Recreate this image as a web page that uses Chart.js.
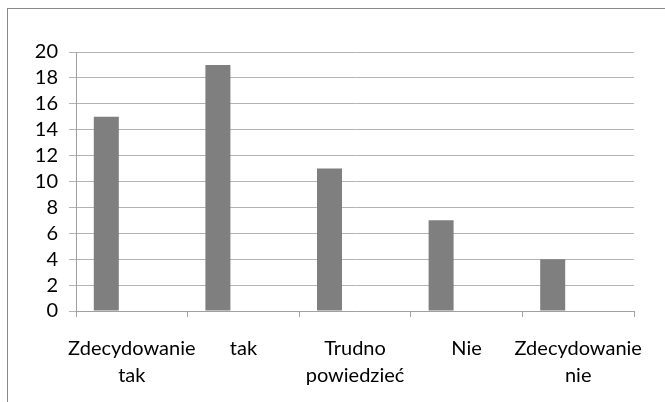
<!DOCTYPE html>
<html>
<head>
<meta charset="utf-8">
<script src="https://cdn.jsdelivr.net/npm/chart.js@4"></script>
<style>
  html, body { margin: 0; padding: 0; background: #fff; }
  #wrap { position: relative; width: 665px; height: 402px; }
  #frame {
    position: absolute; left: 7px; top: 8px; right: 0; bottom: 0;
    border-left: 1px solid #8a8a8a; border-top: 1px solid #8a8a8a;
    pointer-events: none;
  }
</style>
</head>
<body>
<div id="wrap">
  <canvas id="chart" width="665" height="402"></canvas>
  <div id="frame"></div>
</div>
<script>
/* Survey answers — single grey bar series */

const categories = [
    ['Zdecydowanie', 'tak'],
    'tak',
    ['Trudno', 'powiedzieć'],
    'Nie',
    ['Zdecydowanie', 'nie'],
];
const answers = [15, 19, 11, 7, 4];
const emptySeries = [null, null, null, null, null];
const yTicks = [0, 2, 4, 6, 8, 10, 12, 14, 16, 18, 20];

const font = { family: 'Lato, "Open Sans", sans-serif', size: 20 };

new Chart(document.getElementById('chart'), {
    type: 'bar',
    data: {
        labels: categories,
        datasets: [{
            data: answers,
            backgroundColor: '#7f7f7f',
            categoryPercentage: 0.914,
            barPercentage: 0.49,
        }, {
            data: emptySeries,
            backgroundColor: '#7f7f7f',
            categoryPercentage: 0.914,
            barPercentage: 0.49,
        }],
    },
    options: {
        responsive: false,
        animation: false,
        layout: { padding: { left: 0, top: 52, right: 31, bottom: 0 } },
        plugins: { legend: { display: false }, tooltip: { enabled: false } },
        scales: {
            x: {
                offset: true,
                afterFit: function (s) { s.height = 91; },
                border: { color: '#a0a0a0', width: 1 },
                grid: {
                    offset: true,
                    drawOnChartArea: false,
                    drawTicks: true,
                    tickLength: 6,
                    color: '#a0a0a0',
                },
                ticks: {
                    color: '#000',
                    font: Object.assign({ lineHeight: 1.35 }, font),
                    padding: 18,
                    maxRotation: 0,
                    autoSkip: false,
                },
            },
            y: {
                min: 0,
                max: 20,
                afterFit: function (s) { s.width = 76; },
                afterBuildTicks: function (s) {
                    s.ticks = yTicks.map(function (v) { return { value: v }; });
                },
                border: { color: '#a0a0a0', width: 1 },
                grid: {
                    color: '#b3b3b3',
                    tickLength: 7,
                },
                ticks: {
                    color: '#000',
                    font: font,
                    padding: 11,
                    autoSkip: false,
                },
            },
        },
    },
});
</script>
</body>
</html>
